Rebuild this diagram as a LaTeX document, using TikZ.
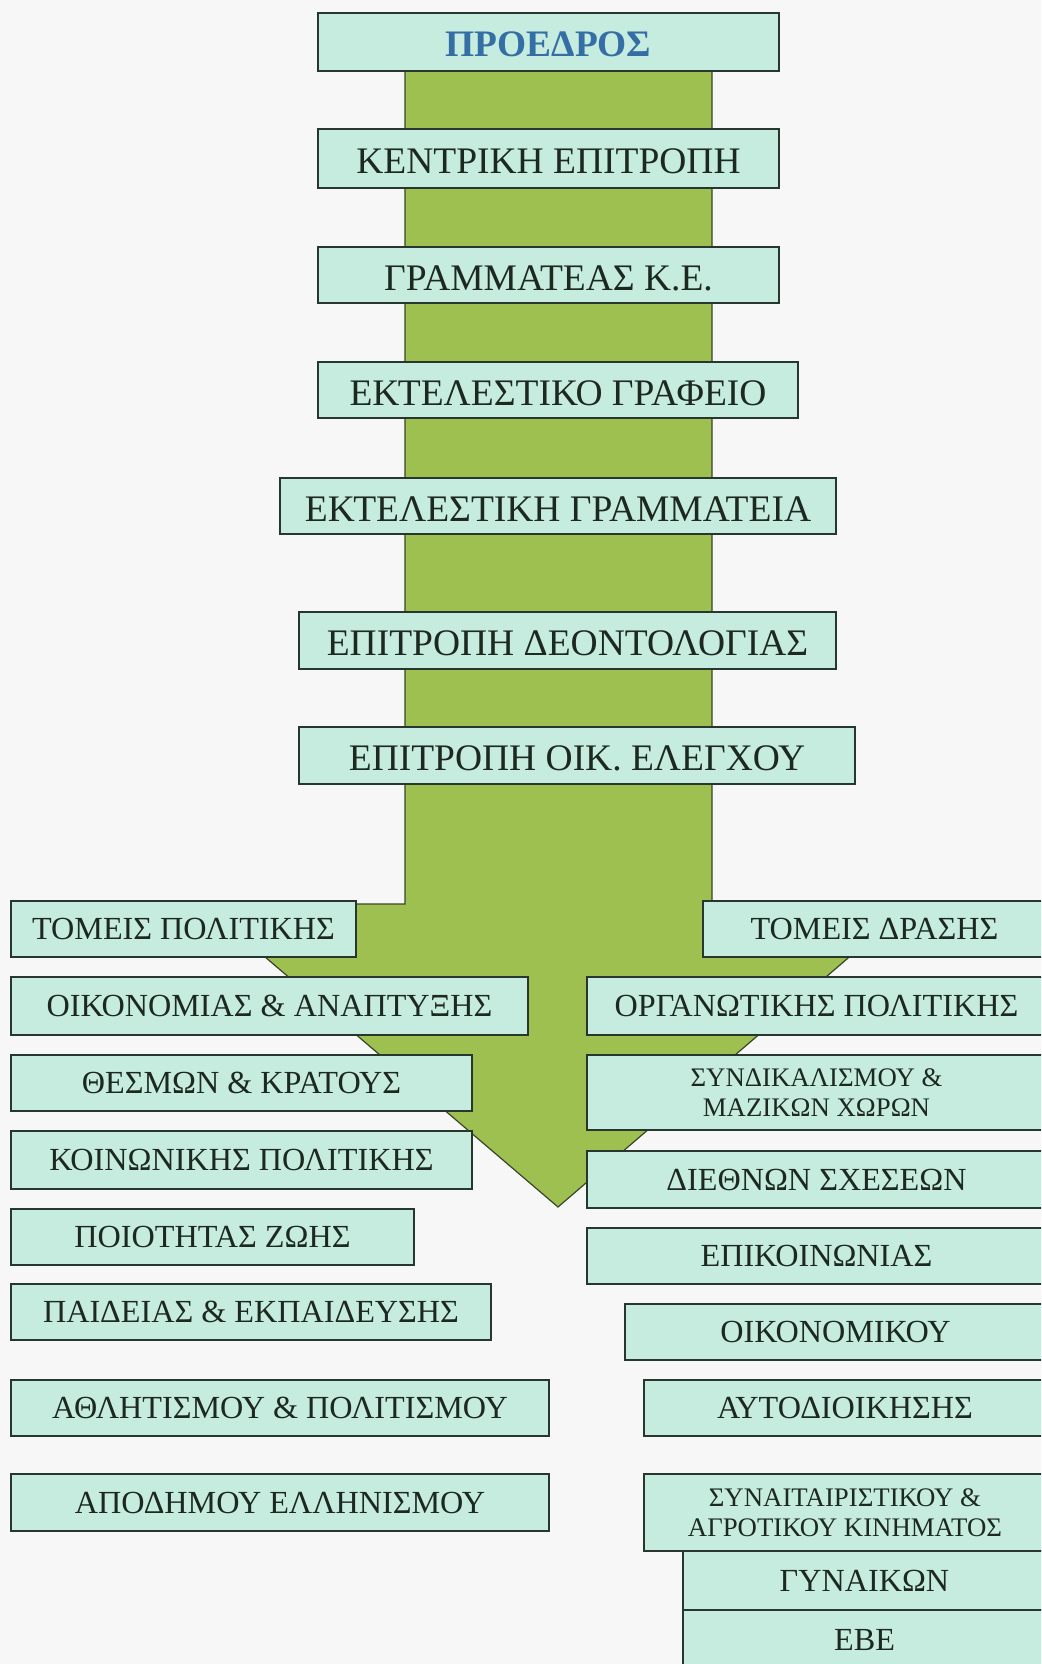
\documentclass[tikz,border=0pt]{standalone}
\usepackage{fontspec}
\setmainfont{Liberation Serif}
\definecolor{bg}{RGB}{247,247,247}
\definecolor{boxfill}{RGB}{197,236,222}
\definecolor{boxline}{RGB}{40,55,45}
\definecolor{txt}{RGB}{28,40,32}
\definecolor{arrowgreen}{RGB}{158,192,80}
\definecolor{arrowline}{RGB}{55,70,40}
\definecolor{presblue}{RGB}{52,110,165}
\tikzset{
  orgbox/.style={draw=boxline, line width=1.6pt, fill=boxfill, inner sep=0pt, text=txt, align=center},
  topfont/.style={font=\fontsize{37.5}{41}\selectfont, text height=30pt, text depth=0pt},
  sidefont/.style={font=\fontsize{32.2}{35}\selectfont},
  smallfont/.style={font=\fontsize{26.8}{30}\selectfont},
}
\begin{document}
\begin{tikzpicture}[x=1pt,y=-1pt]
\useasboundingbox (0,0) rectangle (1041,1664);
\clip (0,0) rectangle (1041,1664);
\fill[bg] (0,0) rectangle (1041,1664);
% big arrow
\coordinate (sl) at (405,40);
\coordinate (sr) at (712,40);
\coordinate (tip) at (558,1207);
\draw[fill=arrowgreen, draw=arrowline, line width=1.2pt, line join=miter]
  (sl) -- (405,904) -- (203,904) -- (tip) -- (911,904) -- (712,904) -- (sr) -- cycle;
% central column
\node[orgbox, topfont, minimum width=461pt, minimum height=58pt, text=presblue, font=\fontsize{37.4}{41}\selectfont\bfseries] (pro) at (548.5,42) {ΠΡΟΕΔΡΟΣ};
\node[orgbox, topfont, minimum width=461pt, minimum height=59pt] (ke) at (548.5,158.5) {ΚΕΝΤΡΙΚΗ ΕΠΙΤΡΟΠΗ};
\node[orgbox, topfont, minimum width=461pt, minimum height=56pt] (gram) at (548.5,275) {ΓΡΑΜΜΑΤΕΑΣ Κ.Ε.};
\node[orgbox, topfont, minimum width=480pt, minimum height=56pt] (ekgr) at (558,390) {ΕΚΤΕΛΕΣΤΙΚΟ ΓΡΑΦΕΙΟ};
\node[orgbox, topfont, minimum width=556pt, minimum height=56pt] (ekgram) at (558,506) {ΕΚΤΕΛΕΣΤΙΚΗ ΓΡΑΜΜΑΤΕΙΑ};
\node[orgbox, topfont, minimum width=537pt, minimum height=57pt] (deon) at (567.5,640.5) {ΕΠΙΤΡΟΠΗ ΔΕΟΝΤΟΛΟΓΙΑΣ};
\node[orgbox, topfont, minimum width=556pt, minimum height=57pt] (oik) at (577,755.5) {ΕΠΙΤΡΟΠΗ ΟΙΚ. ΕΛΕΓΧΟΥ};
% left column
\node[orgbox, sidefont, minimum width=345pt, minimum height=56pt] (l0) at (183.5,929) {ΤΟΜΕΙΣ ΠΟΛΙΤΙΚΗΣ};
\node[orgbox, sidefont, minimum width=517pt, minimum height=58pt] (l1) at (269.5,1006) {ΟΙΚΟΝΟΜΙΑΣ \& ΑΝΑΠΤΥΞΗΣ};
\node[orgbox, sidefont, minimum width=461pt, minimum height=56pt] (l2) at (241.5,1083) {ΘΕΣΜΩΝ \& ΚΡΑΤΟΥΣ};
\node[orgbox, sidefont, minimum width=461pt, minimum height=58pt] (l3) at (241.5,1160) {ΚΟΙΝΩΝΙΚΗΣ ΠΟΛΙΤΙΚΗΣ};
\node[orgbox, sidefont, minimum width=403pt, minimum height=56pt] (l4) at (212.5,1237) {ΠΟΙΟΤΗΤΑΣ ΖΩΗΣ};
\node[orgbox, sidefont, minimum width=480pt, minimum height=56pt] (l5) at (251,1312) {ΠΑΙΔΕΙΑΣ \& ΕΚΠΑΙΔΕΥΣΗΣ};
\node[orgbox, sidefont, minimum width=538pt, minimum height=56pt] (l6) at (280,1408) {ΑΘΛΗΤΙΣΜΟΥ \& ΠΟΛΙΤΙΣΜΟΥ};
\node[orgbox, sidefont, minimum width=538pt, minimum height=57pt] (l7) at (280,1502.5) {ΑΠΟΔΗΜΟΥ ΕΛΛΗΝΙΣΜΟΥ};
% right column
\node[orgbox, sidefont, minimum width=343pt, minimum height=56pt] (r0) at (874.5,929) {ΤΟΜΕΙΣ ΔΡΑΣΗΣ};
\node[orgbox, sidefont, minimum width=459pt, minimum height=58pt] (r1) at (816.5,1006) {ΟΡΓΑΝΩΤΙΚΗΣ ΠΟΛΙΤΙΚΗΣ};
\node[orgbox, smallfont, minimum width=459pt, minimum height=75pt] (r2) at (816.5,1092.5) {ΣΥΝΔΙΚΑΛΙΣΜΟΥ \&\\ΜΑΖΙΚΩΝ ΧΩΡΩΝ};
\node[orgbox, sidefont, minimum width=459pt, minimum height=57pt] (r3) at (816.5,1179.5) {ΔΙΕΘΝΩΝ ΣΧΕΣΕΩΝ};
\node[orgbox, sidefont, minimum width=459pt, minimum height=56pt] (r4) at (816.5,1256) {ΕΠΙΚΟΙΝΩΝΙΑΣ};
\node[orgbox, sidefont, minimum width=421pt, minimum height=56pt] (r5) at (835.5,1332) {ΟΙΚΟΝΟΜΙΚΟΥ};
\node[orgbox, sidefont, minimum width=402pt, minimum height=56pt] (r6) at (845,1408) {ΑΥΤΟΔΙΟΙΚΗΣΗΣ};
\node[orgbox, smallfont, minimum width=402pt, minimum height=77pt] (r7) at (845,1512.5) {ΣΥΝΑΙΤΑΙΡΙΣΤΙΚΟΥ \&\\ΑΓΡΟΤΙΚΟΥ ΚΙΝΗΜΑΤΟΣ};
\node[orgbox, sidefont, minimum width=363pt, minimum height=59pt] (r8) at (864.5,1580.5) {ΓΥΝΑΙΚΩΝ};
\node[orgbox, sidefont, minimum width=363pt, minimum height=60pt] (r9) at (864.5,1640) {ΕΒΕ};
\end{tikzpicture}
\end{document}
